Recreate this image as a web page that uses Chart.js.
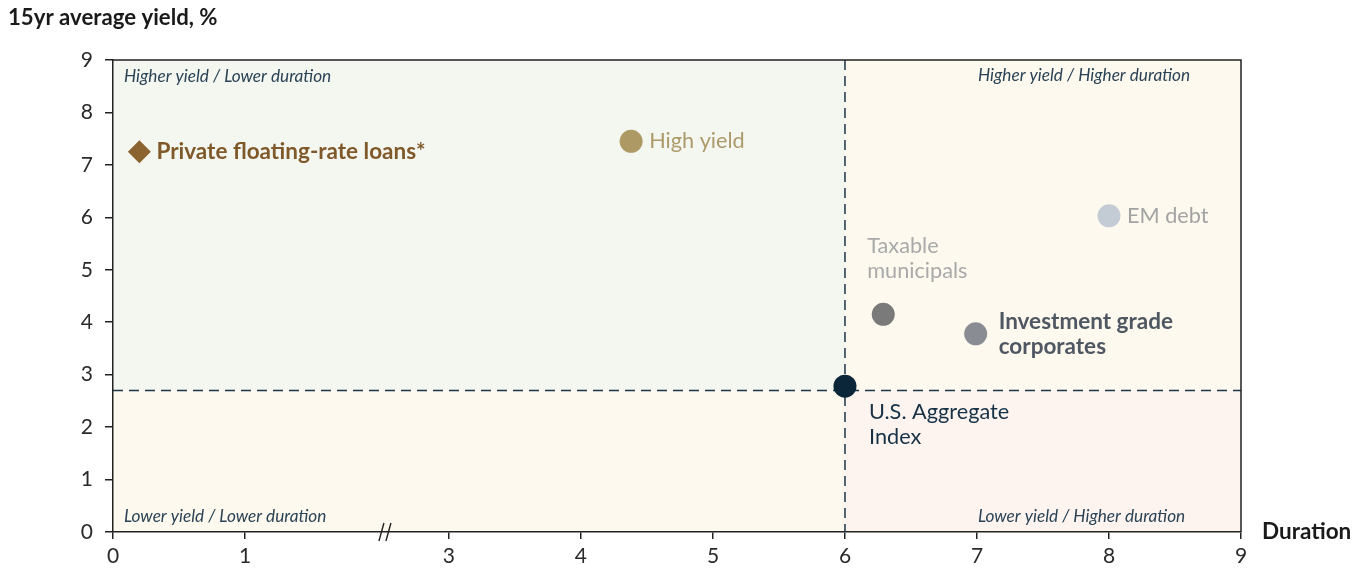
<!DOCTYPE html>
<html>
<head>
<meta charset="utf-8">
<title>Yield vs. duration</title>
<script src="https://cdn.jsdelivr.net/npm/chart.js@4/dist/chart.umd.min.js"></script>
<style>
  html, body { margin: 0; padding: 0; background: #ffffff; }
  #wrap { position: relative; width: 1366px; height: 573px; }
</style>
</head>
<body>
<div id="wrap"><canvas id="chart"></canvas></div>
<script>
// Asset classes: duration (years) and 15-year average yield (%)
const assetNames = [
  'Private floating-rate loans*',
  'High yield',
  'EM debt',
  'Taxable municipals',
  'Investment grade corporates',
  'U.S. Aggregate Index'
];
const durations = [0.2, 4.38, 8.0, 6.29, 6.99, 6.0];
const yields = [7.25, 7.45, 6.03, 4.15, 3.78, 2.78];

const labelLines = [
  ['Private floating-rate loans*'],
  ['High yield'],
  ['EM debt'],
  ['Taxable', 'municipals'],
  ['Investment grade', 'corporates'],
  ['U.S. Aggregate', 'Index']
];

// Axis ticks
const xTickValues = [0, 1, 3, 4, 5, 6, 7, 8, 9];
const yTickValues = [0, 1, 2, 3, 4, 5, 6, 7, 8, 9];

// Quadrant split: the Aggregate index's duration and a yield threshold
const splitDuration = 6;
const splitYield = 2.7;

// Broken x axis: the stretch between 1 and 3 is shortened
const breakFrom = 1;
const breakTo = 3;
const breakGap = 0.455;
const breakMark = 2.06; // where the "//" sits, in axis units

function toAxis(d) {
  if (d <= breakFrom) return d;
  if (d >= breakTo) return d - breakGap;
  const t = (d - breakFrom) / (breakTo - breakFrom);
  return breakFrom + t * (breakTo - breakGap - breakFrom);
}

const markerColors = ['#8a6330', '#ad9963', '#c3ccd5', '#7a7a7a', '#898d93', '#0c2639'];
const markerShapes = ['rectRot', 'circle', 'circle', 'circle', 'circle', 'circle'];
const markerRadius = [11.5, 11.5, 11.5, 11.5, 11.5, 11.5];

const labelStyles = [
  { color: '#80592a', weight: 'bold',   size: 22.5, dx: 17,  dy: 0,   align: 'left' },
  { color: '#ad9a6a', weight: 'normal', size: 21.7, dx: 18,  dy: 0,   align: 'left' },
  { color: '#a3a3a3', weight: 'normal', size: 21.7, dx: 18,  dy: 0,   align: 'left' },
  { color: '#a9a9a9', weight: 'normal', size: 21.7, dx: -16, dy: -68, align: 'left' },
  { color: '#4f5763', weight: 'bold',   size: 22.5, dx: 23,  dy: -12, align: 'left' },
  { color: '#173247', weight: 'normal', size: 21.7, dx: 24,  dy: 26,  align: 'left' }
];

const FONT = 'Lato, "Open Sans", sans-serif';
const AXIS_COLOR = '#222222';
const NAVY = '#1b3448';

const points = durations.map((d, i) => ({ x: toAxis(d), y: yields[i] }));

const quadrantPlugin = {
  id: 'quadrants',
  beforeDraw(chart) {
    const { ctx, chartArea: a, scales: { x, y } } = chart;
    const sx = x.getPixelForValue(toAxis(splitDuration));
    const sy = y.getPixelForValue(splitYield);
    ctx.save();
    ctx.fillStyle = '#f4f7f0';
    ctx.fillRect(a.left, a.top, sx - a.left, sy - a.top);
    ctx.fillStyle = '#fdf9ee';
    ctx.fillRect(sx, a.top, a.right - sx, sy - a.top);
    ctx.fillStyle = '#fdf9ee';
    ctx.fillRect(a.left, sy, sx - a.left, a.bottom - sy);
    ctx.fillStyle = '#fdf4f0';
    ctx.fillRect(sx, sy, a.right - sx, a.bottom - sy);
    ctx.restore();
  },
  beforeDatasetsDraw(chart) {
    const { ctx, chartArea: a, scales: { x, y } } = chart;
    const sx = x.getPixelForValue(toAxis(splitDuration));
    const sy = y.getPixelForValue(splitYield);
    ctx.save();
    // dashed split lines
    ctx.strokeStyle = NAVY;
    ctx.lineWidth = 1.5;
    ctx.setLineDash([10, 6]);
    ctx.beginPath();
    ctx.moveTo(a.left, sy);
    ctx.lineTo(a.right, sy);
    ctx.moveTo(sx, a.top);
    ctx.lineTo(sx, a.bottom);
    ctx.stroke();
    ctx.setLineDash([]);

    // top and right frame
    ctx.strokeStyle = AXIS_COLOR;
    ctx.lineWidth = 1.5;
    ctx.beginPath();
    ctx.moveTo(a.left, a.top);
    ctx.lineTo(a.right, a.top);
    ctx.lineTo(a.right, a.bottom);
    ctx.stroke();

    // quadrant captions
    ctx.font = 'italic 17.2px ' + FONT;
    ctx.fillStyle = '#2b4356';
    ctx.textBaseline = 'middle';
    ctx.textAlign = 'left';
    const rx = x.getPixelForValue(toAxis(7)) + 1;
    ctx.fillText('Higher yield / Lower duration', a.left + 11, a.top + 16);
    ctx.fillText('Higher yield / Higher duration', rx, a.top + 15);
    ctx.fillText('Lower yield / Lower duration', a.left + 11, a.bottom - 16);
    ctx.fillText('Lower yield / Higher duration', rx, a.bottom - 16);

    // axis break mark
    const bx = x.getPixelForValue(breakMark);
    const by = a.bottom;
    ctx.strokeStyle = AXIS_COLOR;
    ctx.lineWidth = 1.4;
    ctx.beginPath();
    ctx.moveTo(bx - 6, by + 9);
    ctx.lineTo(bx - 1, by - 9);
    ctx.moveTo(bx + 1, by + 9);
    ctx.lineTo(bx + 6, by - 9);
    ctx.stroke();

    // axis titles
    ctx.fillStyle = '#1a1a1a';
    ctx.font = 'bold 22.2px ' + FONT;
    ctx.textAlign = 'left';
    ctx.fillText('15yr average yield, %', 8, 18);
    ctx.font = 'bold 22.5px ' + FONT;
    ctx.fillText('Duration', a.right + 21, a.bottom);
    ctx.restore();
  },
  afterDatasetsDraw(chart) {
    const { ctx } = chart;
    const meta = chart.getDatasetMeta(0);
    ctx.save();
    ctx.textBaseline = 'middle';
    meta.data.forEach((pt, i) => {
      const s = labelStyles[i];
      ctx.fillStyle = s.color;
      ctx.textAlign = s.align;
      ctx.font = (s.weight === 'bold' ? 'bold ' : '') + s.size + 'px ' + FONT;
      labelLines[i].forEach((line, k) => {
        ctx.fillText(line, pt.x + s.dx, pt.y + s.dy + k * 25);
      });
    });
    ctx.restore();
  }
};

new Chart(document.getElementById('chart'), {
  type: 'scatter',
  data: {
    datasets: [{
      label: 'Asset classes',
      data: points,
      backgroundColor: markerColors,
      borderColor: markerColors,
      borderWidth: 0,
      pointStyle: markerShapes,
      pointRadius: markerRadius,
      pointHoverRadius: markerRadius
    }]
  },
  options: {
    responsive: true,
    maintainAspectRatio: false,
    animation: false,
    events: [],
    layout: { padding: { left: 0, top: 60, right: 125, bottom: 0 } },
    plugins: {
      legend: { display: false },
      tooltip: { enabled: false }
    },
    scales: {
      x: {
        type: 'linear',
        min: 0,
        max: toAxis(9),
        afterBuildTicks(scale) {
          scale.ticks = xTickValues.map(v => ({ value: toAxis(v) }));
        },
        afterFit(scale) { scale.height = 41; },
        ticks: {
          autoSkip: false,
          maxRotation: 0,
          padding: 5,
          color: '#2a2a2a',
          font: { family: FONT, size: 21 },
          callback: (value, index) => String(xTickValues[index])
        },
        grid: {
          drawOnChartArea: false,
          drawTicks: true,
          tickLength: 7,
          color: AXIS_COLOR,
          lineWidth: 1.5
        },
        border: { display: true, color: AXIS_COLOR, width: 1.5 }
      },
      y: {
        type: 'linear',
        min: 0,
        max: 9,
        afterBuildTicks(scale) {
          scale.ticks = yTickValues.map(v => ({ value: v }));
        },
        afterFit(scale) { scale.width = 113; },
        ticks: {
          padding: 12,
          color: '#2a2a2a',
          font: { family: FONT, size: 21 },
          callback: v => String(v)
        },
        grid: {
          drawOnChartArea: false,
          drawTicks: true,
          tickLength: 8,
          color: AXIS_COLOR,
          lineWidth: 1.5
        },
        border: { display: true, color: AXIS_COLOR, width: 1.5 }
      }
    }
  },
  plugins: [quadrantPlugin]
});
</script>
</body>
</html>
